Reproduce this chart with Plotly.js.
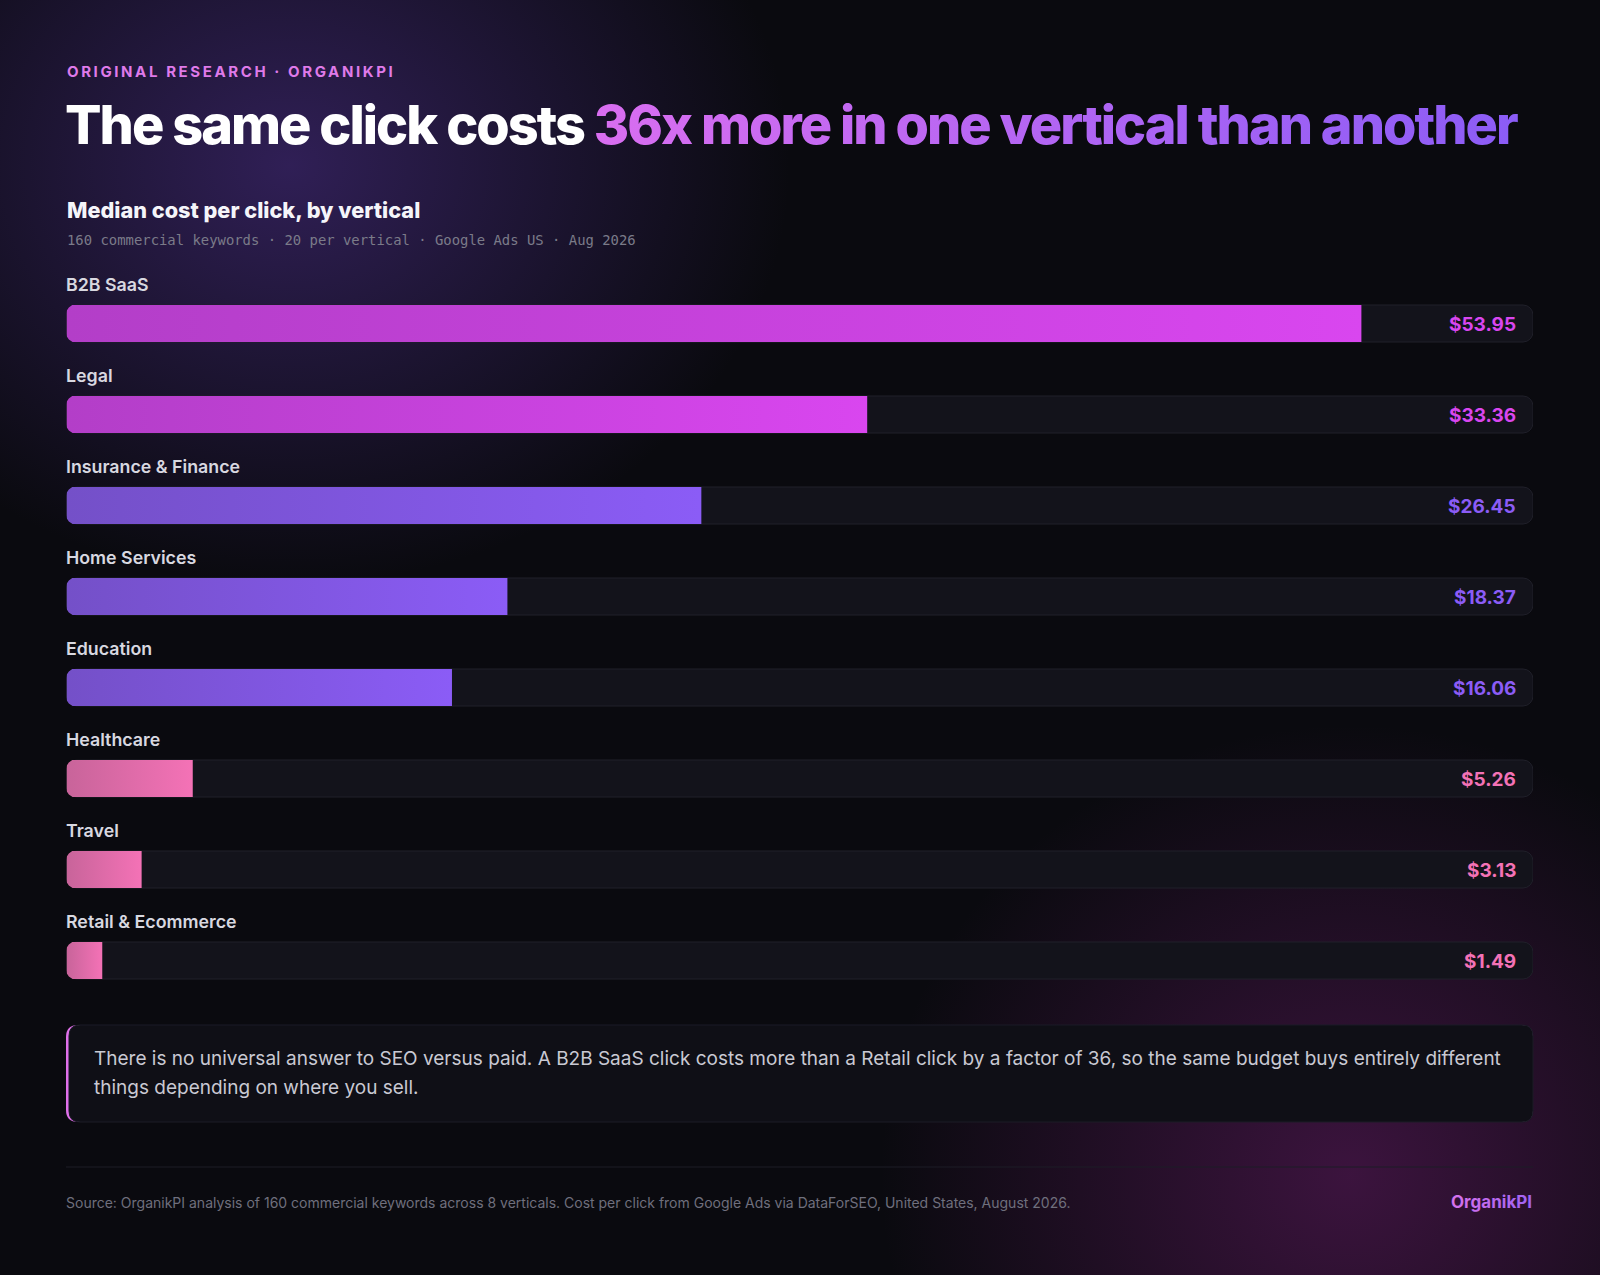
<!DOCTYPE html>
<html>
<head>
<meta charset="utf-8">
<script src="https://cdn.plot.ly/plotly-3.0.1.min.js"></script>
<style>
html,body{margin:0;padding:0;}
body{width:1600px;height:1275px;overflow:hidden;
 background:
  radial-gradient(ellipse 500px 420px at 290px 165px, rgba(64,40,116,0.7), rgba(64,40,116,0) 100%),
  radial-gradient(ellipse 470px 450px at 1350px 1175px, rgba(105,28,105,0.52), rgba(105,28,105,0) 100%),
  #0a0a0f;}
#chart{width:1600px;height:1275px;}
</style>
</head>
<body>
<div id="chart"></div>
<script>
// ---------- data ----------
const categories = ['B2B SaaS','Legal','Insurance & Finance','Home Services','Education','Healthcare','Travel','Retail & Ecommerce'];
const cpc = [53.95, 33.36, 26.45, 18.37, 16.06, 5.26, 3.13, 1.49];
const valueLabels = ['$53.95','$33.36','$26.45','$18.37','$16.06','$5.26','$3.13','$1.49'];
const tiers = ['high','high','mid','mid','mid','low','low','low'];

const eyebrow = 'ORIGINAL RESEARCH · ORGANIKPI';
const titleLead = 'The same click costs ';
const titleAccent = '36x more in one vertical than another';
const subtitle = 'Median cost per click, by vertical';
const subnote = '160 commercial keywords · 20 per vertical · Google Ads US · Aug 2026';
const calloutLines = [
  'There is no universal answer to SEO versus paid. A B2B SaaS click costs more than a Retail click by a factor of 36, so the same budget buys entirely different',
  'things depending on where you sell.'
];
const sourceText = 'Source: OrganikPI analysis of 160 commercial keywords across 8 verticals. Cost per click from Google Ads via DataForSEO, United States, August 2026.';
const brand = 'OrganikPI';

// ---------- styling ----------
const W = 1600, H = 1275;
const AXIS_MAX = 61.1;
const tierSolid = {high:'#cc44e0', mid:'#8356e6', low:'#e46aac'};
const tierText  = {high:'#d946ef', mid:'#8b5cf6', low:'#f472b6'};
const tierGrad  = {high:['#b33ec8','#d946ef'], mid:['#7450c8','#8b5cf6'], low:['#c8649a','#f472b6']};
const FONT = 'Inter, "Noto Sans", sans-serif';
const BAR_W = 0.4066;
const TRACK = '#13131b';
const TRACK_LINE = '#20202a';

function px(x){return x/W;}
function py(y){return 1 - y/H;}
function P(x,y){return px(x).toFixed(5)+','+py(y).toFixed(5);}
function rr(x0,y0,x1,y1,r){
  return 'M'+P(x0+r,y0)+' L'+P(x1-r,y0)+' Q'+P(x1,y0)+' '+P(x1,y0+r)+
         ' L'+P(x1,y1-r)+' Q'+P(x1,y1)+' '+P(x1-r,y1)+
         ' L'+P(x0+r,y1)+' Q'+P(x0,y1)+' '+P(x0,y1-r)+
         ' L'+P(x0,y0+r)+' Q'+P(x0,y0)+' '+P(x0+r,y0)+' Z';
}

const traces = [
  { // track (rounded right end, outlined)
    type:'bar', orientation:'h', y:categories, x:categories.map(()=>AXIS_MAX), base:0, cliponaxis:false,
    width:BAR_W, marker:{color:TRACK, cornerradius:10, line:{color:TRACK_LINE, width:1}}, hoverinfo:'skip'
  },
  { // invisible left-rounded outline, used only to round the left end of track and bars
    type:'bar', orientation:'h', y:categories, x:categories.map(()=>-(AXIS_MAX/2 + 0.03)), base:categories.map(()=>AXIS_MAX/2),
    cliponaxis:false, width:BAR_W + 0.014, marker:{color:'rgba(0,0,0,0)', cornerradius:10.5, line:{width:0}}, hoverinfo:'skip'
  },
  { // value bars
    type:'bar', orientation:'h', y:categories, x:cpc, base:0, cliponaxis:false,
    width:BAR_W, marker:{color:tiers.map(t=>tierSolid[t]), line:{width:0}}, hoverinfo:'skip'
  }
];

const annotations = [];
categories.forEach((c,i)=>{
  annotations.push({xref:'x', yref:'y', x:0, y:c, xanchor:'left', yanchor:'middle', yshift:39, xshift:-2.5,
    text:c, showarrow:false, font:{family:FONT, size:17.8, weight:600, color:'#d8d8e0'}});
  annotations.push({xref:'x', yref:'y', x:AXIS_MAX, y:c, xanchor:'right', yanchor:'middle', xshift:-15, yshift:-1,
    text:valueLabels[i], showarrow:false, font:{family:FONT, size:19, weight:700, color:tierText[tiers[i]]}});
});
annotations.push({xref:'paper', yref:'paper', x:px(64.5), y:py(71.5), xanchor:'left', yanchor:'middle',
  text:eyebrow, showarrow:false, font:{family:FONT, size:15, weight:700, color:'#df7ae9'}});
annotations.push({xref:'paper', yref:'paper', x:px(64.5), y:py(210.5), xanchor:'left', yanchor:'middle',
  text:subtitle, showarrow:false, font:{family:FONT, size:21.7, weight:800, color:'#f5f5fa'}});
annotations.push({xref:'paper', yref:'paper', x:px(64.5), y:py(240), xanchor:'left', yanchor:'middle',
  text:subnote, showarrow:false, font:{family:'"DejaVu Sans Mono", monospace', size:13.9, color:'#7b7b89'}});
annotations.push({xref:'paper', yref:'paper', x:px(91.5), y:py(1058), xanchor:'left', yanchor:'middle',
  text:calloutLines[0], showarrow:false, font:{family:FONT, size:19, color:'#c9c9d3'}});
annotations.push({xref:'paper', yref:'paper', x:px(91.5), y:py(1087), xanchor:'left', yanchor:'middle',
  text:calloutLines[1], showarrow:false, font:{family:FONT, size:19, color:'#c9c9d3'}});
annotations.push({xref:'paper', yref:'paper', x:px(64), y:py(1202.5), xanchor:'left', yanchor:'middle',
  text:sourceText, showarrow:false, font:{family:FONT, size:14, color:'#6f6f7d'}});
annotations.push({xref:'paper', yref:'paper', x:px(1534), y:py(1202), xanchor:'right', yanchor:'middle',
  text:brand, showarrow:false, font:{family:FONT, size:17, weight:700, color:'#c06cf0'}});

const shapes = [
  {type:'path', xref:'paper', yref:'paper', path:rr(66,1025,1533,1122,12), fillcolor:'#e070ea', line:{width:0}, layer:'below'},
  {type:'path', xref:'paper', yref:'paper', path:rr(69,1025,1533,1122,11), fillcolor:'#0f0f16', line:{color:'#1c1c27', width:1}, layer:'below'},
  {type:'line', xref:'paper', yref:'paper', x0:px(66), x1:px(1533), y0:py(1167), y1:py(1167), line:{color:'#1d1d27', width:1}, layer:'below'}
];

const layout = {
  width:W, height:H, margin:{l:0,r:0,t:0,b:0,pad:0},
  paper_bgcolor:'rgba(0,0,0,0)', plot_bgcolor:'rgba(0,0,0,0)',
  showlegend:false, barmode:'overlay', hovermode:false,
  title:{text: titleLead + '<span style="color:#b866f0">' + titleAccent + '</span>',
    x:px(65), xanchor:'left', xref:'container', y:py(125), yanchor:'middle', yref:'container',
    font:{family:FONT, size:54, weight:800, color:'#ffffff'}},
  xaxis:{domain:[px(66.5), px(1533)], range:[0, AXIS_MAX], visible:false, fixedrange:true},
  yaxis:{domain:[py(1006), py(278)], range:[7.5, -0.5], type:'category', visible:false, fixedrange:true},
  annotations:annotations, shapes:shapes,
  font:{family:FONT}
};

Plotly.newPlot('chart', traces, layout, {displayModeBar:false, staticPlot:true}).then(gd=>{
  const ns = 'http://www.w3.org/2000/svg';
  const svg = gd.querySelector('svg.main-svg');
  let defs = svg.querySelector('defs');
  if(!defs){defs = document.createElementNS(ns,'defs'); svg.insertBefore(defs, svg.firstChild);}
  function grad(id, c0, c1, user, x1, x2){
    const g = document.createElementNS(ns,'linearGradient');
    g.setAttribute('id', id);
    if(user){g.setAttribute('gradientUnits','userSpaceOnUse'); g.setAttribute('x1',x1); g.setAttribute('x2',x2); g.setAttribute('y1',0); g.setAttribute('y2',0);}
    else {g.setAttribute('x1','0'); g.setAttribute('x2','1'); g.setAttribute('y1','0'); g.setAttribute('y2','0');}
    [[0,c0],[1,c1]].forEach(([o,c])=>{const s=document.createElementNS(ns,'stop'); s.setAttribute('offset',o); s.setAttribute('stop-color',c); g.appendChild(s);});
    defs.appendChild(g);
  }
  Object.keys(tierGrad).forEach(t=>grad('bar_'+t, tierGrad[t][0], tierGrad[t][1]));
  const barTraces = gd.querySelectorAll('.barlayer .trace');
  // clip region: left-rounded outlines + everything right of their left ends (past the rounding)
  const clip = document.createElementNS(ns,'clipPath');
  clip.setAttribute('id','trackClip');
  let leftX = null;
  barTraces[1].querySelectorAll('.point path').forEach(p=>{
    const c = document.createElementNS(ns,'path'); c.setAttribute('d', p.getAttribute('d')); clip.appendChild(c);
    const bb = p.getBBox(); leftX = bb.x;
  });
  if(leftX !== null){
    const r = document.createElementNS(ns,'rect');
    r.setAttribute('x', leftX + 24); r.setAttribute('y', -2000); r.setAttribute('width', 6000); r.setAttribute('height', 6000);
    clip.appendChild(r);
  }
  defs.appendChild(clip);
  [0,2].forEach(k=>{
    const pts = barTraces[k].querySelector('.points') || barTraces[k];
    pts.setAttribute('clip-path','url(#trackClip)');
  });
  barTraces[2].querySelectorAll('.point path').forEach((p,i)=>{p.style.fill = 'url(#bar_'+tiers[i]+')';});

  // annotation text tweaks
  gd.querySelectorAll('text.annotation-text').forEach(t=>{
    if(t.textContent === eyebrow){
      const bb = t.getBBox();
      t.style.letterSpacing = '2.6px';
      t.setAttribute('text-anchor','start');
      t.setAttribute('x', bb.x);
    }
    if(t.textContent === brand){ grad('brandGrad','#d872ec','#9f62f2'); t.style.fill='url(#brandGrad)'; }
  });
  // title: tight tracking fitted to the measured width, gradient on the accent words
  const tt = gd.querySelector('text.gtitle');
  if(tt){
    const n = tt.textContent.length;
    const len = tt.getComputedTextLength();
    const ls = (1452 - len) / n;
    tt.style.letterSpacing = ls.toFixed(2) + 'px';
    const s = tt.getStartPositionOfChar(titleLead.length).x;
    const e = tt.getEndPositionOfChar(n-1).x;
    grad('titleGrad','#d96ef0','#8b5cf6', true, s, e);
    tt.querySelectorAll('tspan').forEach(ts=>{ if(ts.textContent === titleAccent) ts.style.fill = 'url(#titleGrad)'; });
  }
});
</script>
</body>
</html>
